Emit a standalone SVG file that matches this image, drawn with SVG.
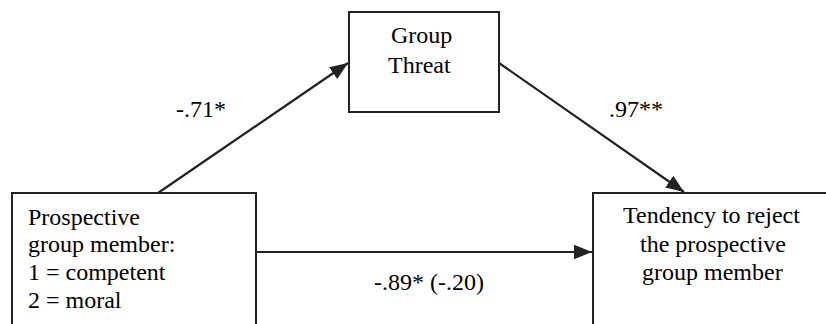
<svg xmlns="http://www.w3.org/2000/svg" width="826" height="324" viewBox="0 0 826 324">
<defs>
<marker id="a" viewBox="0 0 10 10" refX="10" refY="5" markerWidth="18" markerHeight="18" markerUnits="userSpaceOnUse" orient="auto">
<path d="M0,1 L10,5 L0,9 z" fill="#222"/>
</marker>
</defs>
<rect width="826" height="324" fill="#fff"/>
<g id="edges" stroke="#222" stroke-width="2.2" fill="none">
<line x1="158" y1="193" x2="348" y2="63" marker-end="url(#a)"/>
<line x1="499" y1="63" x2="684" y2="192" marker-end="url(#a)"/>
<line x1="256" y1="252" x2="592" y2="252" marker-end="url(#a)"/>
</g>
<g id="labels">
<text x="176" y="117" font-family="Liberation Serif" font-size="24">-.71*</text>
<text x="609" y="117" font-family="Liberation Serif" font-size="24">.97**</text>
<text x="374" y="290" font-family="Liberation Serif" font-size="24">-.89* (-.20)</text>
</g>
<g id="threat">
<rect fill="#fff" stroke="#222" stroke-width="2" x="349" y="12" width="150" height="100"/>
<text x="391" y="43" font-family="Liberation Serif" font-size="24">Group</text>
<text x="388" y="73" font-family="Liberation Serif" font-size="24">Threat</text>
</g>
<g id="member">
<rect fill="#fff" stroke="#222" stroke-width="2" x="12" y="193" width="244" height="150"/>
<text x="28" y="225" font-family="Liberation Serif" font-size="24">Prospective</text>
<text x="28" y="252" font-family="Liberation Serif" font-size="24">group member:</text>
<text x="28" y="280" font-family="Liberation Serif" font-size="24">1 = competent</text>
<text x="28" y="308" font-family="Liberation Serif" font-size="24">2 = moral</text>
</g>
<g id="reject">
<rect fill="#fff" stroke="#222" stroke-width="2" x="593" y="193" width="260" height="150"/>
<text x="623" y="223" font-family="Liberation Serif" font-size="24">Tendency to reject</text>
<text x="640" y="252" font-family="Liberation Serif" font-size="24">the prospective</text>
<text x="642" y="280" font-family="Liberation Serif" font-size="24">group member</text>
</g>
</svg>
